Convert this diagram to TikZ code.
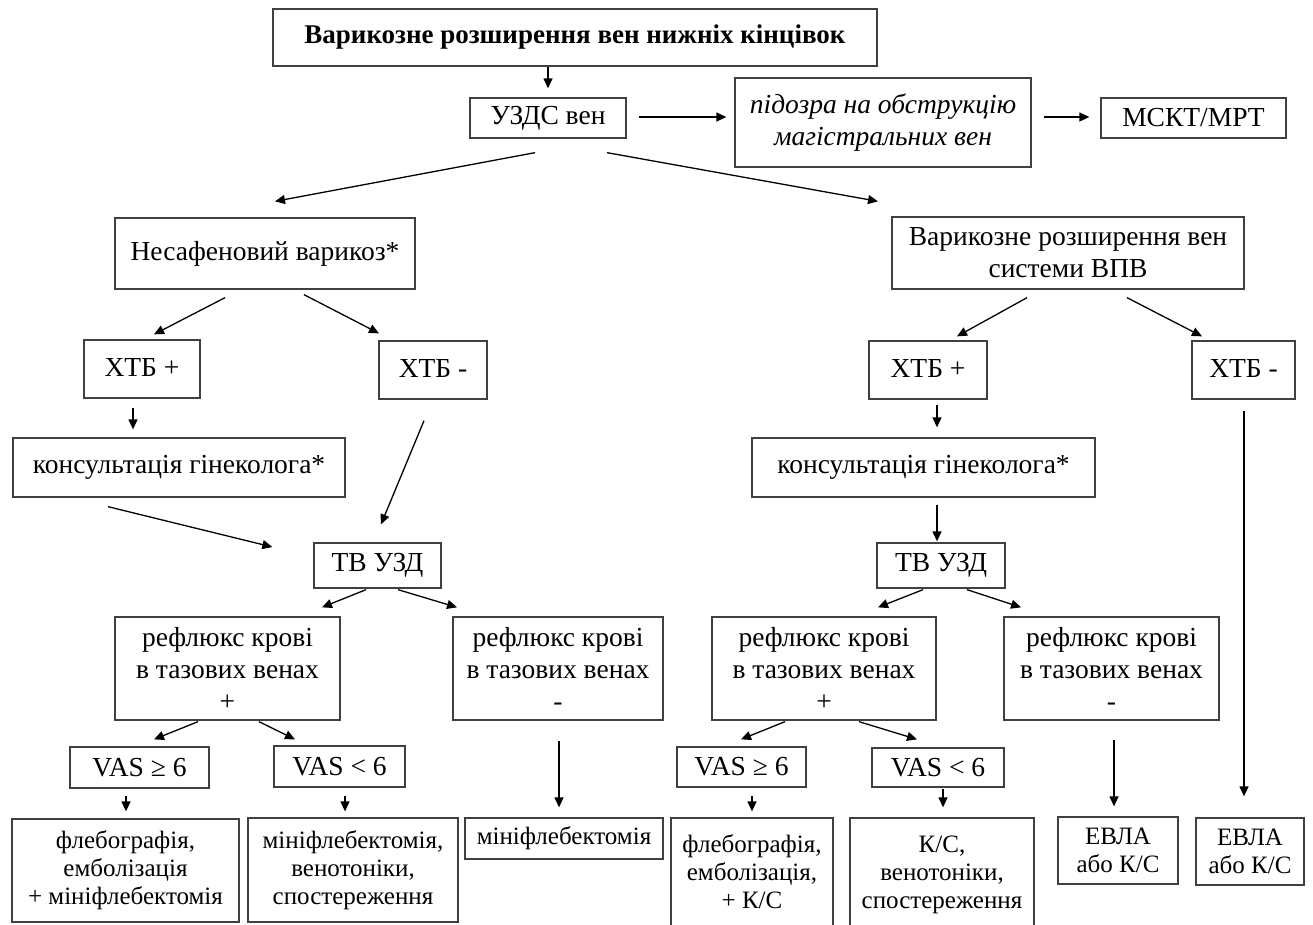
\documentclass[tikz,border=0pt]{standalone}
\usepackage{fontspec}
\setmainfont{Liberation Serif}
\usetikzlibrary{arrows.meta}
\begin{document}
\begin{tikzpicture}[x=1pt,y=-1pt,
  bx/.style={draw=black!75, line width=1.3pt, inner sep=0pt, align=center,
    font=\fontsize{27.5}{32}\selectfont},
  sm/.style={font=\fontsize{25}{28}\selectfont},
  arr/.style={line width=1.3pt, -{Triangle[length=10pt,width=9pt]}}]
\clip (0,0) rectangle (1313,924);
\fill[white] (0,0) rectangle (1313,924);
% row 1-2
\node[bx, minimum width=604, minimum height=57, font=\bfseries\fontsize{27}{30}\selectfont] (top) at (575,37.5) {Варикозне розширення вен нижніх кінцівок};
\node[bx, minimum width=156, minimum height=40] (uzds) at (548,118) {УЗДС вен};
\node[bx, minimum width=296, minimum height=89, font=\itshape\fontsize{27.5}{32}\selectfont] (pid) at (883,122.5) {підозра на обструкцію\\магістральних вен};
\node[bx, minimum width=185, minimum height=40] (mskt) at (1193.5,118) {МСКТ/МРТ};
% row 3
\node[bx, minimum width=300, minimum height=71] (nesaf) at (265,253.5) {\raisebox{5pt}{Несафеновий варикоз*}};
\node[bx, minimum width=352, minimum height=72] (vpv) at (1068,253) {Варикозне розширення вен\\системи ВПВ};
% row 4
\node[bx, minimum width=116, minimum height=58] (xpL) at (142,369) {\raisebox{3pt}{ХТБ +}};
\node[bx, minimum width=108, minimum height=58] (xmL) at (433,370) {\raisebox{3pt}{ХТБ -}};
\node[bx, minimum width=118, minimum height=58] (xpR) at (928,370) {\raisebox{3pt}{ХТБ +}};
\node[bx, minimum width=103, minimum height=58] (xmR) at (1243.5,370) {\raisebox{3pt}{ХТБ -}};
% row 5
\node[bx, minimum width=332, minimum height=59] (konsL) at (179,467.5) {консультація гінеколога*};
\node[bx, minimum width=343, minimum height=59] (konsR) at (923.5,467.5) {консультація гінеколога*};
% row 6
\node[bx, minimum width=127, minimum height=45] (tvL) at (377.5,565.5) {ТВ УЗД};
\node[bx, minimum width=128, minimum height=45] (tvR) at (941,565.5) {ТВ УЗД};
% row 7
\node[bx, minimum width=225, minimum height=103] (refpL) at (227.5,668.5) {рефлюкс крові\\в тазових венах\\+};
\node[bx, minimum width=210, minimum height=103] (refmL) at (558,668.5) {рефлюкс крові\\в тазових венах\\-};
\node[bx, minimum width=224, minimum height=103] (refpR) at (824,668.5) {рефлюкс крові\\в тазових венах\\+};
\node[bx, minimum width=215, minimum height=103] (refmR) at (1111.5,668.5) {рефлюкс крові\\в тазових венах\\-};
% row 8
\node[bx, minimum width=139, minimum height=41] (vgeL) at (139.5,767.5) {VAS ≥ 6};
\node[bx, minimum width=131, minimum height=41] (vltL) at (339.5,766.5) {VAS < 6};
\node[bx, minimum width=129, minimum height=40] (vgeR) at (741.5,767) {VAS ≥ 6};
\node[bx, minimum width=132, minimum height=39] (vltR) at (938,767.5) {VAS < 6};
% row 9
\node[bx, sm, minimum width=227, minimum height=103] (flebL) at (125.5,870.5) {флебографія,\\емболізація\\+ мініфлебектомія};
\node[bx, sm, minimum width=210, minimum height=104] (minivL) at (353,870) {мініфлебектомія,\\венотоніки,\\спостереження};
\node[bx, sm, minimum width=198, minimum height=41] (miniL) at (564,838.5) {мініфлебектомія};
\node[bx, sm, minimum width=162, minimum height=114] (flebR) at (752,875) {\raisebox{5pt}{\begin{tabular}{@{}c@{}}флебографія,\\емболізація,\\+ К/С\end{tabular}}};
\node[bx, sm, minimum width=184, minimum height=114] (ks) at (942,875) {\raisebox{5pt}{\begin{tabular}{@{}c@{}}К/С,\\венотоніки,\\спостереження\end{tabular}}};
\node[bx, sm, minimum width=120, minimum height=67] (evla1) at (1118,850.5) {ЕВЛА\\або К/С};
\node[bx, sm, minimum width=108, minimum height=67] (evla2) at (1250,851.5) {ЕВЛА\\або К/С};
% arrows
\draw[arr] ([shift={(-27,0)}]top.south) -- ([shift={(0,-9)}]uzds.north);
\draw[arr] ([shift={(12,-1)}]uzds.east) -- ([shift={(-8,-5.5)}]pid.west);
\draw[arr] ([shift={(12,-5.5)}]pid.east) -- ([shift={(-11,-1)}]mskt.west);
\draw[arr] ([shift={(-13,14)}]uzds.south) -- ([shift={(10,-16)}]nesaf.north);
\draw[arr] ([shift={(59,14)}]uzds.south) -- ([shift={(-190,-15)}]vpv.north);
\draw[arr] ([shift={(-40,8)}]nesaf.south) -- ([shift={(12,-5)}]xpL.north);
\draw[arr] ([shift={(39,5)}]nesaf.south) -- ([shift={(-54,-7)}]xmL.north);
\draw[arr] ([shift={(-41,8)}]vpv.south) -- ([shift={(29,-4)}]xpR.north);
\draw[arr] ([shift={(59,8)}]vpv.south) -- ([shift={(-41.5,-4)}]xmR.north);
\draw[arr] ([shift={(-9,9)}]xpL.south) -- ([shift={(-46,-8)}]konsL.north);
\draw[arr] ([shift={(-9,21)}]xmL.south) -- ([shift={(3.5,-18)}]tvL.north);
\draw[arr] ([shift={(-71,9)}]konsL.south) -- ([shift={(-41,-18.5)}]tvL.west);
\draw[arr] ([shift={(9,5)}]xpR.south) -- ([shift={(13.5,-10)}]konsR.north);
\draw[arr] ([shift={(13.5,7)}]konsR.south) -- ([shift={(-4,-1)}]tvR.north);
\draw[arr] ([shift={(0.5,11)}]xmR.south) -- ([shift={(-6,-21)}]evla2.north);
\draw[arr] ([shift={(-11.5,1)}]tvL.south) -- ([shift={(94.5,-9)}]refpL.north);
\draw[arr] ([shift={(20.5,1)}]tvL.south) -- ([shift={(-101,-9)}]refmL.north);
\draw[arr] ([shift={(-18,1)}]tvR.south) -- ([shift={(54,-9)}]refpR.north);
\draw[arr] ([shift={(26,1)}]tvR.south) -- ([shift={(-90.5,-9)}]refmR.north);
\draw[arr] ([shift={(-29.5,1)}]refpL.south) -- ([shift={(14.5,-7)}]vgeL.north);
\draw[arr] ([shift={(31.5,1)}]refpL.south) -- ([shift={(-44.5,-6)}]vltL.north);
\draw[arr] ([shift={(1,20)}]refmL.south) -- ([shift={(-5,-10)}]miniL.north);
\draw[arr] ([shift={(-39,1)}]refpR.south) -- ([shift={(-0.5,-7)}]vgeR.north);
\draw[arr] ([shift={(35,1)}]refpR.south) -- ([shift={(-21,-8)}]vltR.north);
\draw[arr] ([shift={(2.5,19)}]refmR.south) -- ([shift={(-4,-10)}]evla1.north);
\draw[arr] ([shift={(-13.5,7)}]vgeL.south) -- ([shift={(0.5,-7)}]flebL.north);
\draw[arr] ([shift={(5.5,8)}]vltL.south) -- ([shift={(-8,-6)}]minivL.north);
\draw[arr] ([shift={(10.5,8)}]vgeR.south) -- ([shift={(0,-6)}]flebR.north);
\draw[arr] ([shift={(5,1)}]vltR.south) -- ([shift={(1,-10)}]ks.north);
\end{tikzpicture}
\end{document}
